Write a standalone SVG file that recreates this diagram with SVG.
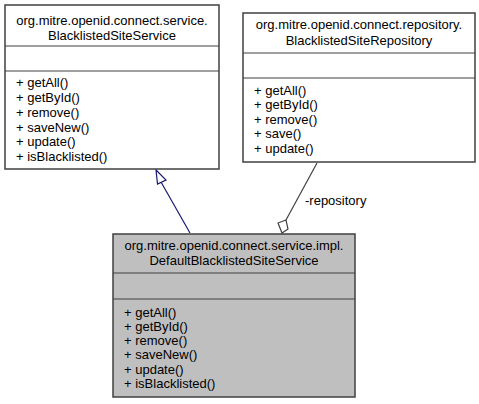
<svg xmlns="http://www.w3.org/2000/svg" width="479" height="404" viewBox="0 0 479 404">
<style>
.box{fill:#ffffff;stroke:#404040;stroke-width:1.5}
.gray{fill:#bfbfbf}
.div{stroke:#404040;stroke-width:1.2}
text{font-family:"Liberation Sans",Arial,sans-serif;font-size:13px;fill:#000}
.c{text-anchor:middle}
</style>
<rect width="479" height="404" fill="#ffffff"/>
<g id="connectors">
<line x1="161" y1="182" x2="190" y2="233" stroke="#191970" stroke-width="1.2"/>
<polygon points="156,170 157.5,184 166,180" fill="#ffffff" stroke="#191970" stroke-width="1.2"/>
<line x1="286" y1="220" x2="317" y2="163" stroke="#404040" stroke-width="1.2"/>
<polygon points="286,220 278,223 282,233 288,229" fill="#ffffff" stroke="#404040" stroke-width="1.2"/>
<text x="305" y="205">-repository</text>
</g>
<g id="BlacklistedSiteService">
<rect class="box" x="5" y="5" width="214" height="164"/>
<line class="div" x1="5" y1="46" x2="219" y2="46"/>
<line class="div" x1="5" y1="71" x2="219" y2="71"/>
<text class="c" x="112" y="25">org.mitre.openid.connect.service.</text>
<text class="c" x="112" y="40">BlacklistedSiteService</text>
<text x="16" y="87">+ getAll()</text>
<text x="16" y="102">+ getById()</text>
<text x="16" y="117">+ remove()</text>
<text x="16" y="132">+ saveNew()</text>
<text x="16" y="146">+ update()</text>
<text x="16" y="161">+ isBlacklisted()</text>
</g>
<g id="BlacklistedSiteRepository">
<rect class="box" x="243" y="13" width="232" height="149"/>
<line class="div" x1="243" y1="53" x2="475" y2="53"/>
<line class="div" x1="243" y1="78" x2="475" y2="78"/>
<text class="c" x="359" y="29">org.mitre.openid.connect.repository.</text>
<text class="c" x="359" y="45">BlacklistedSiteRepository</text>
<text x="254" y="95">+ getAll()</text>
<text x="254" y="109">+ getById()</text>
<text x="254" y="124">+ remove()</text>
<text x="254" y="138">+ save()</text>
<text x="254" y="153">+ update()</text>
</g>
<g id="DefaultBlacklistedSiteService">
<rect class="box gray" x="113" y="234" width="242" height="163"/>
<line class="div" x1="113" y1="273" x2="355" y2="273"/>
<line class="div" x1="113" y1="299" x2="355" y2="299"/>
<text class="c" x="234" y="250">org.mitre.openid.connect.service.impl.</text>
<text class="c" x="234" y="265">DefaultBlacklistedSiteService</text>
<text x="124" y="317">+ getAll()</text>
<text x="124" y="331">+ getById()</text>
<text x="124" y="345">+ remove()</text>
<text x="124" y="359">+ saveNew()</text>
<text x="124" y="374">+ update()</text>
<text x="124" y="388">+ isBlacklisted()</text>
</g>
</svg>
